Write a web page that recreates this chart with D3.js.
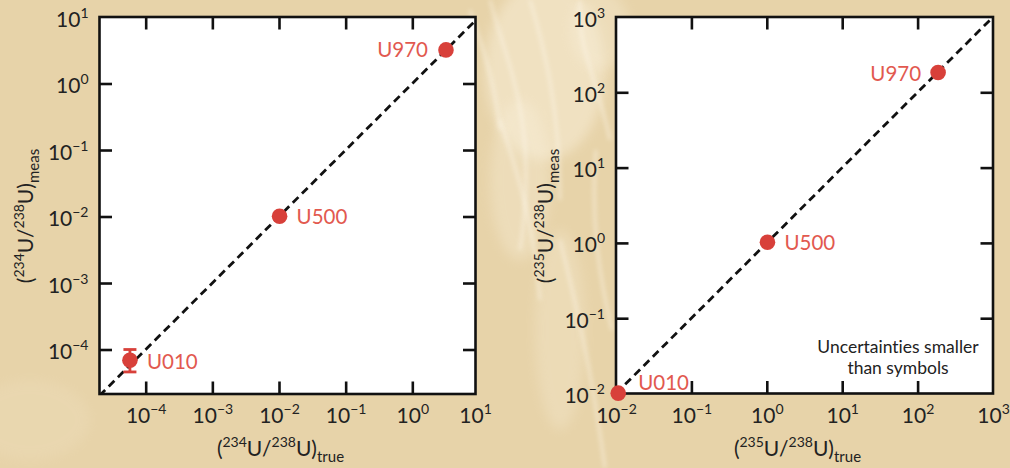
<!DOCTYPE html>
<html>
<head>
<meta charset="utf-8">
<script src="https://cdn.jsdelivr.net/npm/d3@7"></script>
<style>
  html, body { margin: 0; padding: 0; background: #e7d3a9; }
  svg { display: block; }
  text { font-family: Lato, "Open Sans", sans-serif; font-variant-ligatures: none; }
</style>
</head>
<body>
<svg id="chart" width="1010" height="468"></svg>
<script>
// ---------------- data ----------------
const samples = ["U010", "U500", "U970"];
// left panel: 234U/238U
const r234True = [5.8e-5, 0.0102, 3.2];
const r234Meas = [6.9e-5, 0.0101, 3.2];
const r234ErrLow = [4.6e-5, null, null];
const r234ErrHigh = [1.0e-4, null, null];
// right panel: 235U/238U
const r235True = [0.0107, 1.02, 187];
const r235Meas = [0.0101, 1.02, 183];

const xTicksLeft = [1e-4, 1e-3, 1e-2, 1e-1, 1e0, 1e1];
const yTicksLeft = [1e-4, 1e-3, 1e-2, 1e-1, 1e0, 1e1];
const ticksRight = [1e-2, 1e-1, 1e0, 1e1, 1e2, 1e3];
const note = ["Uncertainties smaller", "than symbols"];

// ---------------- drawing ----------------
const svg = d3.select("#chart");
const defs = svg.append("defs");
const blur = defs.append("filter").attr("id", "blur").attr("x", "-50%").attr("y", "-50%").attr("width", "200%").attr("height", "200%");
blur.append("feGaussianBlur").attr("stdDeviation", 6);
const blur2 = defs.append("filter").attr("id", "blur2").attr("x", "-50%").attr("y", "-50%").attr("width", "200%").attr("height", "200%");
blur2.append("feGaussianBlur").attr("stdDeviation", 2);

// background texture
const bg = svg.append("g");
bg.append("rect").attr("width", 1010).attr("height", 468).attr("fill", "#e7d3a9");
const glow = [
  {cx: 545, cy: 70, rx: 60, ry: 90, o: 0.45},
  {cx: 520, cy: 180, rx: 30, ry: 80, o: 0.3},
  {cx: 600, cy: 30, rx: 30, ry: 40, o: 0.3},
  {cx: 560, cy: 330, rx: 25, ry: 100, o: 0.25},
  {cx: 30, cy: 420, rx: 60, ry: 40, o: 0.12}
];
bg.selectAll("ellipse").data(glow).join("ellipse")
  .attr("cx", d => d.cx).attr("cy", d => d.cy).attr("rx", d => d.rx).attr("ry", d => d.ry)
  .attr("fill", "#fbf3e0").attr("opacity", d => d.o).attr("filter", "url(#blur)");
const streaks = [
  "M490,0 C505,60 540,120 520,250",
  "M530,0 C545,50 560,110 560,200",
  "M580,0 C575,40 600,90 610,140",
  "M500,120 C520,180 535,230 540,300",
  "M560,240 C575,300 590,360 605,468",
  "M470,10 C480,40 495,80 500,130",
  "M596,150 C590,220 600,280 612,330"
];
bg.selectAll("path.streak").data(streaks).join("path").attr("class", "streak")
  .attr("d", d => d).attr("fill", "none").attr("stroke", "#fffaf0")
  .attr("stroke-width", 3).attr("opacity", 0.45).attr("filter", "url(#blur2)");

const dotColor = "#d8403a";
const labelColor = "#e2594f";

function supLabel(sel, v) {
  const e = Math.round(Math.log10(v));
  sel.text(null);
  sel.append("tspan").text("10");
  sel.append("tspan").attr("dy", -9).attr("font-size", 14).text(e < 0 ? "\u2212" + (-e) : String(e));
}

function panel(cfg) {
  const g = svg.append("g");
  const [x0, x1] = cfg.x.range();
  const [y0, y1] = cfg.y.range(); // y0 bottom, y1 top
  g.append("rect").attr("x", x0).attr("y", y1).attr("width", x1 - x0).attr("height", y0 - y1)
    .attr("fill", "#ffffff");

  const clipId = "clip" + cfg.id;
  defs.append("clipPath").attr("id", clipId).append("rect")
    .attr("x", x0).attr("y", y1).attr("width", x1 - x0).attr("height", y0 - y1);

  const tickLen = 12.5;
  const bx = g.append("g").attr("transform", `translate(0,${y0})`)
    .call(d3.axisBottom(cfg.x).tickValues(cfg.xTicks).tickSizeInner(-tickLen).tickSizeOuter(0));
  const tx = g.append("g").attr("transform", `translate(0,${y1})`)
    .call(d3.axisTop(cfg.x).tickValues(cfg.xTicks).tickSizeInner(-tickLen).tickSizeOuter(0).tickFormat(""));
  const ly = g.append("g").attr("transform", `translate(${x0},0)`)
    .call(d3.axisLeft(cfg.y).tickValues(cfg.yTicks).tickSizeInner(-tickLen).tickSizeOuter(0));
  const ry = g.append("g").attr("transform", `translate(${x1},0)`)
    .call(d3.axisRight(cfg.y).tickValues(cfg.yTicks).tickSizeInner(-tickLen).tickSizeOuter(0).tickFormat(""));

  [bx, tx, ly, ry].forEach(a => {
    a.select(".domain").remove();
    a.selectAll(".tick line").attr("stroke", "#111").attr("stroke-width", 2.6);
    a.selectAll(".tick").filter(d => {
      if (a === bx || a === tx) { const p = cfg.x(d); return p <= x0 + 2 || p >= x1 - 2; }
      const p = cfg.y(d); return p <= y1 + 2 || p >= y0 - 2;
    }).select("line").remove();
  });
  bx.selectAll(".tick").filter(d => cfg.x(d) > x1).attr("transform", `translate(${x1},0)`);

  bx.selectAll(".tick text").attr("y", 29).attr("dy", 0).attr("font-size", 21)
    .attr("fill", "#222").attr("text-anchor", "middle").each(function(d) { supLabel(d3.select(this), d); });
  ly.selectAll(".tick text").attr("x", -11).attr("dy", 9).attr("font-size", 21)
    .attr("fill", "#222").attr("text-anchor", "end").each(function(d) { supLabel(d3.select(this), d); });

  const dom = [Math.min(cfg.x.domain()[0], cfg.y.domain()[0]), Math.max(cfg.x.domain()[1], cfg.y.domain()[1])];
  g.append("path").attr("clip-path", `url(#${clipId})`)
    .attr("d", d3.line().x(d => cfg.x(d)).y(d => cfg.y(d))(dom))
    .attr("stroke", "#111").attr("stroke-width", 2.8).attr("stroke-dasharray", "8,5").attr("fill", "none");

  g.append("rect").attr("x", x0).attr("y", y1).attr("width", x1 - x0).attr("height", y0 - y1)
    .attr("fill", "none").attr("stroke", "#111").attr("stroke-width", 2.6);

  const pts = cfg.xs.map((v, i) => ({name: samples[i], x: v, y: cfg.ys[i],
    lo: cfg.lo ? cfg.lo[i] : null, hi: cfg.hi ? cfg.hi[i] : null, off: cfg.offsets[i]}));
  const eb = g.append("g").selectAll("g").data(pts.filter(p => p.lo != null)).join("g")
    .attr("stroke", dotColor).attr("stroke-width", 2.8);
  eb.append("line").attr("x1", d => cfg.x(d.x)).attr("x2", d => cfg.x(d.x))
    .attr("y1", d => cfg.y(d.lo)).attr("y2", d => cfg.y(d.hi));
  eb.append("line").attr("x1", d => cfg.x(d.x) - 6.5).attr("x2", d => cfg.x(d.x) + 6.5)
    .attr("y1", d => cfg.y(d.lo)).attr("y2", d => cfg.y(d.lo));
  eb.append("line").attr("x1", d => cfg.x(d.x) - 6.5).attr("x2", d => cfg.x(d.x) + 6.5)
    .attr("y1", d => cfg.y(d.hi)).attr("y2", d => cfg.y(d.hi));

  g.append("g").selectAll("circle").data(pts).join("circle")
    .attr("cx", d => cfg.x(d.x)).attr("cy", d => cfg.y(d.y)).attr("r", 7.8).attr("fill", dotColor);
  g.append("g").selectAll("text").data(pts).join("text")
    .attr("x", d => cfg.x(d.x) + d.off[0]).attr("y", d => cfg.y(d.y) + d.off[1])
    .attr("text-anchor", d => d.off[0] < 0 ? "end" : "start")
    .attr("font-size", 20.5).attr("fill", labelColor).text(d => d.name);

  const xt = svg.append("text").attr("x", (x0 + x1) / 2 - 7).attr("y", 455.5)
    .attr("text-anchor", "middle").attr("font-size", 21).attr("fill", "#222");
  titleSpans(xt, cfg.iso, "true");
  const yt = svg.append("text").attr("transform", `translate(${cfg.yTitleX},216) rotate(-90)`)
    .attr("text-anchor", "middle").attr("font-size", 21).attr("fill", "#222");
  titleSpans(yt, cfg.iso, "meas");
}

function titleSpans(t, iso, sub) {
  t.append("tspan").text("(");
  t.append("tspan").attr("font-size", 14).attr("dy", -9).text(iso);
  t.append("tspan").attr("dy", 9).text("U/");
  t.append("tspan").attr("font-size", 14).attr("dy", -9).text("238");
  t.append("tspan").attr("dy", 9).text("U)");
  t.append("tspan").attr("font-size", 15).attr("dy", 6).text(sub);
}

panel({
  id: "L", iso: "234",
  x: d3.scaleLog().domain([Math.pow(10, -4.693), Math.pow(10, 0.948)]).range([99.5, 475.5]),
  y: d3.scaleLog().domain([Math.pow(10, -4.669), 10]).range([394, 17]),
  xTicks: xTicksLeft, yTicks: yTicksLeft,
  xs: r234True, ys: r234Meas, lo: r234ErrLow, hi: r234ErrHigh,
  offsets: [[17, 8.5], [17, 7.5], [-18, 7.5]],
  yTitleX: 33
});

panel({
  id: "R", iso: "235",
  x: d3.scaleLog().domain([1e-2, 1e3]).range([616, 993]),
  y: d3.scaleLog().domain([1e-2, 1e3]).range([393.5, 17]),
  xTicks: ticksRight, yTicks: ticksRight,
  xs: r235True, ys: r235Meas,
  offsets: [[20, -3], [17, 7.5], [-17, 8.5]],
  yTitleX: 553
});

svg.append("g").selectAll("text").data(note).join("text")
  .attr("x", 898).attr("y", (d, i) => 353 + i * 21)
  .attr("text-anchor", "middle").attr("font-size", 17.5).attr("fill", "#222").text(d => d);
</script>
</body>
</html>
